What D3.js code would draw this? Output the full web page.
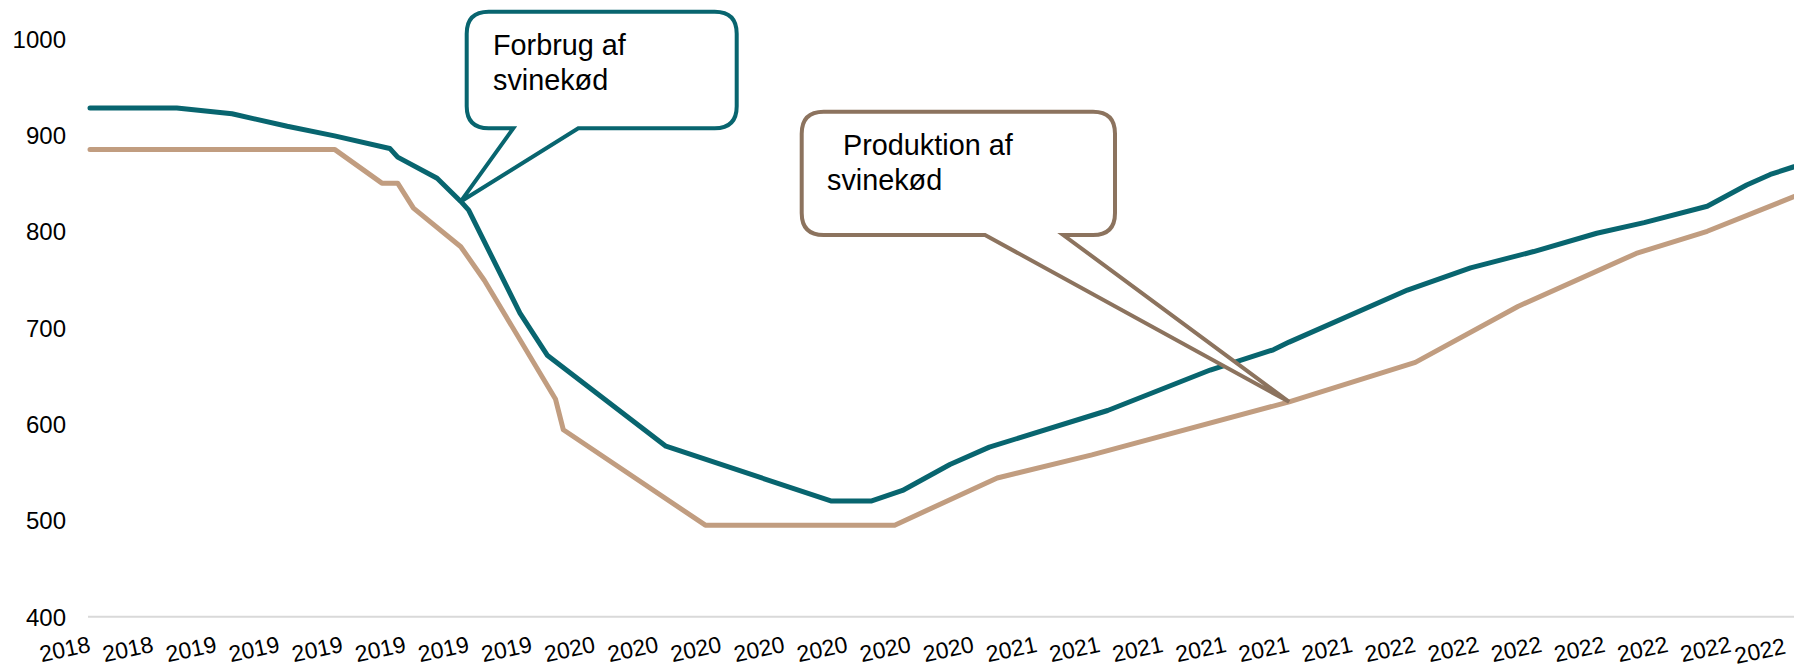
<!DOCTYPE html>
<html>
<head>
<meta charset="utf-8">
<script src="https://cdn.jsdelivr.net/npm/d3@7"></script>
<style>
  html, body { margin: 0; padding: 0; background: #ffffff; }
  svg { display: block; font-family: "Liberation Sans", Arial, sans-serif; }
</style>
</head>
<body>
<svg id="chart" width="1794" height="669"></svg>
<script>
// ---- data (x = period index, labels every 8 periods) ----
const tickLabels = ["2018","2018","2019","2019","2019","2019","2019","2019",
  "2020","2020","2020","2020","2020","2020","2020",
  "2021","2021","2021","2021","2021","2021",
  "2022","2022","2022","2022","2022","2022","2022"];
const yTicks = [400, 500, 600, 700, 800, 900, 1000];

const forbrugX = [0, 11, 18, 25, 31, 38, 39, 44, 47, 48, 54.5, 58, 73, 94, 99, 103, 109, 114, 129, 142, 150, 152, 167, 175, 183, 191, 197, 205, 210, 213, 216];
const forbrugY = [928, 928, 922, 909, 899, 886, 877, 855, 831, 822, 715, 671, 577, 520, 520, 531, 558, 576, 614, 656, 677, 685, 739, 762, 779, 798, 809, 826, 848, 859, 867];

const produktionX = [0, 31, 37, 39, 41, 47, 50, 59, 60, 78, 102, 115, 127, 152, 168, 181, 196, 205, 216];
const produktionY = [885, 885, 850, 850, 824, 784, 749, 626, 594, 495, 495, 544, 568, 623, 664, 722, 777, 800, 836];

const calloutTexts = [["Forbrug af", "svinekød"], ["\u00a0\u00a0Produktion af", "svinekød"]];

// ---- layout ----
const svg = d3.select("#chart");
const x = d3.scaleLinear().domain([0, 216]).range([90, 1794]);
const y = d3.scaleLinear().domain([400, 1000]).range([616.7, 38.6]);

const teal = "#08656F", tan = "#C19D80", brown = "#8C735E";

// baseline gridline at 400
svg.append("line")
  .attr("x1", 88).attr("x2", 1794)
  .attr("y1", y(400)).attr("y2", y(400))
  .attr("stroke", "#D9D9D9").attr("stroke-width", 2);

// y axis
const yAxis = svg.append("g")
  .attr("transform", "translate(66,0)")
  .call(d3.axisLeft(y).tickValues(yTicks).tickSize(0).tickPadding(0).tickFormat(d3.format("d")));
yAxis.select(".domain").remove();
yAxis.selectAll("text")
  .attr("font-size", 24).attr("fill", "#000").attr("dy", "0.35em")
  .attr("font-family", "'Liberation Sans', Arial, sans-serif");

// x axis
const xTickVals = tickLabels.map((d, i) => i * 8);
const xAxis = svg.append("g")
  .attr("transform", `translate(0,${y(400)})`)
  .call(d3.axisBottom(x).tickValues(xTickVals).tickSize(0).tickFormat((d, i) => tickLabels[i]));
xAxis.select(".domain").remove();
const nLab = tickLabels.length;
xAxis.selectAll(".tick text")
  .attr("font-size", 23).attr("fill", "#000")
  .attr("font-family", "'Liberation Sans', Arial, sans-serif")
  .attr("text-anchor", "end")
  .attr("x", (d, i) => i === nLab - 1 ? -8 : 1).attr("y", 0).attr("dy", 0)
  .attr("transform", "translate(0,35) rotate(-12)");

// lines
const line = d3.line().x(d => x(d[0])).y(d => y(d[1]));
const forbrug = forbrugX.map((v, i) => [v, forbrugY[i]]);
const produktion = produktionX.map((v, i) => [v, produktionY[i]]);

svg.append("path").datum(produktion)
  .attr("d", line).attr("fill", "none").attr("stroke", tan)
  .attr("stroke-width", 5).attr("stroke-linejoin", "round").attr("stroke-linecap", "round");
svg.append("path").datum(forbrug)
  .attr("d", line).attr("fill", "none").attr("stroke", teal)
  .attr("stroke-width", 5).attr("stroke-linejoin", "round").attr("stroke-linecap", "round");

// callouts
function calloutPath(l, t, r, b, rad, p1, p2, tx, ty) {
  return `M${l + rad},${t} L${r - rad},${t} Q${r},${t} ${r},${t + rad} ` +
    `L${r},${b - rad} Q${r},${b} ${r - rad},${b} L${p2},${b} L${tx},${ty} L${p1},${b} ` +
    `L${l + rad},${b} Q${l},${b} ${l},${b - rad} L${l},${t + rad} Q${l},${t} ${l + rad},${t} Z`;
}

const c1tip = [x(forbrugX[8]), y(forbrugY[8])];
svg.append("path")
  .attr("d", calloutPath(466.7, 11.7, 736.7, 128.3, 22, 513.3, 578.3, c1tip[0], c1tip[1]))
  .attr("fill", "#fff").attr("stroke", teal).attr("stroke-width", 4).attr("stroke-linejoin", "miter");
const t1 = svg.append("text").attr("font-size", 28.8).attr("fill", "#000");
t1.append("tspan").attr("x", 493).attr("y", 55).text(calloutTexts[0][0]);
t1.append("tspan").attr("x", 493).attr("y", 90).text(calloutTexts[0][1]);

const c2tip = [x(produktionX[13]), y(produktionY[13])];
svg.append("path")
  .attr("d", calloutPath(801.7, 111.7, 1115, 235, 22, 985, 1063.3, c2tip[0], c2tip[1]))
  .attr("fill", "#fff").attr("stroke", brown).attr("stroke-width", 4).attr("stroke-linejoin", "miter");
const t2 = svg.append("text").attr("font-size", 28.8).attr("fill", "#000");
t2.append("tspan").attr("x", 827).attr("y", 155).text(calloutTexts[1][0]);
t2.append("tspan").attr("x", 827).attr("y", 190).text(calloutTexts[1][1]);
</script>
</body>
</html>
